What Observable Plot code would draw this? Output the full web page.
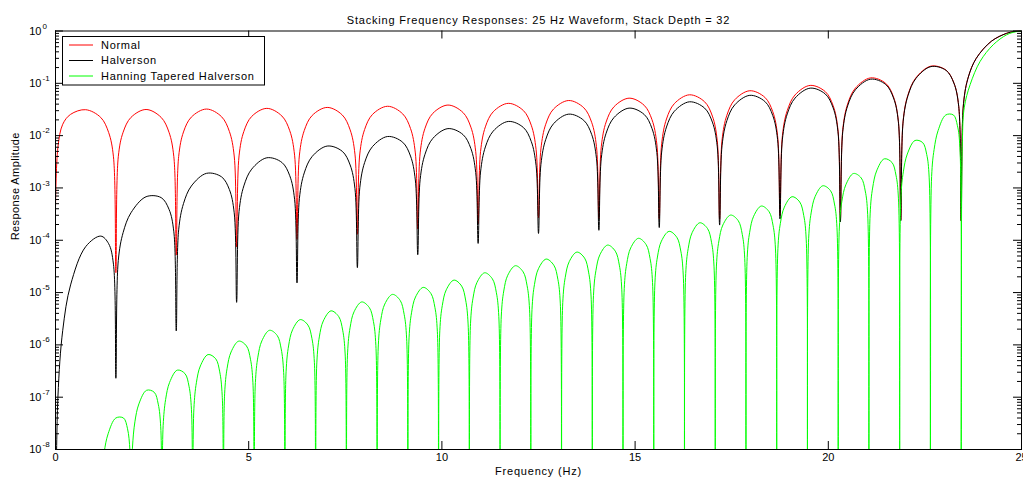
<!DOCTYPE html>
<html>
<head>
<meta charset="utf-8">
<script src="https://cdn.jsdelivr.net/npm/d3@7"></script>
<script src="https://cdn.jsdelivr.net/npm/@observablehq/plot@0.6"></script>
<style>
  html, body { margin: 0; padding: 0; background: #ffffff; }
  #chart { width: 1023px; height: 483px; }
</style>
</head>
<body>
<div id="chart"></div>
<script>
// ---------- text ----------
const title = "Stacking Frequency Responses: 25 Hz Waveform, Stack Depth = 32";
const xLabel = "Frequency (Hz)";
const yLabel = "Response Amplitude";
const seriesNames = ["Normal", "Halverson", "Hanning Tapered Halverson"];
const seriesColors = ["#ff0000", "#000000", "#00ff00"];

// ---------- ticks ----------
const xTicks = [0, 5, 10, 15, 20, 25];
const yTicks = [1e-8, 1e-7, 1e-6, 1e-5, 1e-4, 1e-3, 1e-2, 1e-1, 1];
const yTickExponents = ["-8", "-7", "-6", "-5", "-4", "-3", "-2", "-1", "0"];

// ---------- data: Normal & Halverson share a frequency grid (Hz) ----------
const freqNH = [
  0, 0.0625, 0.1875, 0.3906, 0.7813, 1.1719, 1.375, 1.5,
  1.5625, 1.625, 1.75, 1.9531, 2.3438, 2.7344, 2.9375, 3.0625,
  3.125, 3.1875, 3.3125, 3.5156, 3.9063, 4.2969, 4.5, 4.625,
  4.6875, 4.75, 4.875, 5.0781, 5.4688, 5.8594, 6.0625, 6.1875,
  6.25, 6.3125, 6.4375, 6.6406, 7.0313, 7.4219, 7.625, 7.75,
  7.8125, 7.875, 8.0, 8.2031, 8.5938, 8.9844, 9.1875, 9.3125,
  9.375, 9.4375, 9.5625, 9.7656, 10.1563, 10.5469, 10.75, 10.875,
  10.9375, 11.0, 11.125, 11.3281, 11.7188, 12.1094, 12.3125, 12.4375,
  12.5, 12.5625, 12.6875, 12.8906, 13.2813, 13.6719, 13.875, 14.0,
  14.0625, 14.125, 14.25, 14.4531, 14.8438, 15.2344, 15.4375, 15.5625,
  15.625, 15.6875, 15.8125, 16.0156, 16.4063, 16.7969, 17.0, 17.125,
  17.1875, 17.25, 17.375, 17.5781, 17.9688, 18.3594, 18.5625, 18.6875,
  18.75, 18.8125, 18.9375, 19.1406, 19.5313, 19.9219, 20.125, 20.25,
  20.3125, 20.375, 20.5, 20.7031, 21.0938, 21.4844, 21.6875, 21.8125,
  21.875, 21.9375, 22.0625, 22.2656, 22.6563, 23.0469, 23.25, 23.375,
  23.4375, 23.5, 23.625, 23.8281, 24.2188, 24.6094, 24.8, 25
];

const normal = [
  4.0e-4, 6.0e-3, 1.65e-2, 2.55e-2, 3.13e-2, 2.22e-2, 1.15e-2, 3.93e-3,
  2.4e-5, 3.95e-3, 1.16e-2, 2.23e-2, 3.16e-2, 2.23e-2, 1.16e-2, 3.95e-3,
  5.2e-5, 3.99e-3, 1.175e-2, 2.26e-2, 3.22e-2, 2.30e-2, 1.20e-2, 4.08e-3,
  7.5e-5, 4.09e-3, 1.205e-2, 2.33e-2, 3.32e-2, 2.37e-2, 1.24e-2, 4.23e-3,
  1.04e-4, 4.25e-3, 1.25e-2, 2.42e-2, 3.46e-2, 2.48e-2, 1.29e-2, 4.43e-3,
  1.3e-4, 4.46e-3, 1.31e-2, 2.54e-2, 3.64e-2, 2.61e-2, 1.37e-2, 4.67e-3,
  1.65e-4, 4.67e-3, 1.38e-2, 2.67e-2, 3.84e-2, 2.76e-2, 1.45e-2, 4.95e-3,
  2.06e-4, 4.95e-3, 1.47e-2, 2.86e-2, 4.14e-2, 3.01e-2, 1.58e-2, 5.43e-3,
  2.7e-4, 5.57e-3, 1.65e-2, 3.23e-2, 4.69e-2, 3.41e-2, 1.80e-2, 6.19e-3,
  2.6e-4, 6.15e-3, 1.82e-2, 3.56e-2, 5.20e-2, 3.80e-2, 2.01e-2, 6.90e-3,
  2.55e-4, 7.00e-3, 2.08e-2, 4.09e-2, 6.03e-2, 4.45e-2, 2.36e-2, 8.14e-3,
  2.5e-4, 8.22e-3, 2.45e-2, 4.85e-2, 7.21e-2, 5.38e-2, 2.87e-2, 9.94e-3,
  3.0e-4, 1.00e-2, 3.01e-2, 6.01e-2, 9.12e-2, 6.93e-2, 3.74e-2, 1.30e-2,
  2.45e-4, 1.32e-2, 4.01e-2, 8.13e-2, 0.127, 0.100, 5.49e-2, 1.93e-2,
  2.45e-4, 1.95e-2, 6.04e-2, 0.127, 0.213, 0.179, 0.102, 3.67e-2,
  2.37e-4, 0.0416, 0.1333, 0.3004, 0.6369, 0.9004, 0.9734, 1.0
];

const halverson = [
  1e-10, 1.0e-7, 1.9e-6, 1.4e-5, 7.55e-5, 1.20e-4, 8.59e-5, 3.48e-5,
  2.3e-7, 4.11e-5, 1.40e-4, 3.35e-4, 6.79e-4, 6.53e-4, 3.91e-4, 1.45e-4,
  1.85e-6, 1.58e-4, 5.02e-4, 1.087e-3, 1.90e-3, 1.63e-3, 9.31e-4, 3.35e-4,
  6.5e-6, 3.54e-4, 1.096e-3, 2.29e-3, 3.77e-3, 3.07e-3, 1.71e-3, 6.07e-4,
  1.53e-5, 6.34e-4, 1.936e-3, 3.98e-3, 6.32e-3, 5.01e-3, 2.75e-3, 9.69e-4,
  3.0e-5, 1.005e-3, 3.05e-3, 6.17e-3, 9.62e-3, 7.48e-3, 4.07e-3, 1.42e-3,
  5.3e-5, 1.458e-3, 4.40e-3, 8.86e-3, 1.361e-2, 1.045e-2, 5.66e-3, 1.975e-3,
  8.7e-5, 2.01e-3, 6.07e-3, 1.219e-2, 1.867e-2, 1.429e-2, 7.73e-3, 2.69e-3,
  1.35e-4, 2.81e-3, 8.45e-3, 1.694e-2, 2.574e-2, 1.956e-2, 1.057e-2, 3.68e-3,
  1.55e-4, 3.70e-3, 1.111e-2, 2.215e-2, 3.355e-2, 2.542e-2, 1.367e-2, 4.75e-3,
  1.75e-4, 4.86e-3, 1.463e-2, 2.922e-2, 4.43e-2, 3.366e-2, 1.813e-2, 6.31e-3,
  1.95e-4, 6.42e-3, 1.932e-2, 3.87e-2, 5.89e-2, 4.49e-2, 2.426e-2, 8.45e-3,
  2.55e-4, 8.58e-3, 2.597e-2, 5.23e-2, 8.08e-2, 6.25e-2, 3.40e-2, 1.19e-2,
  2.25e-4, 1.21e-2, 3.70e-2, 7.55e-2, 0.1199, 9.52e-2, 5.25e-2, 1.856e-2,
  2.35e-4, 1.874e-2, 5.83e-2, 0.1234, 0.2087, 0.1768, 0.1009, 3.635e-2,
  2.35e-4, 0.0412, 0.1323, 0.2988, 0.6354, 0.8999, 0.973, 1.0
];

// ---------- data: Hanning tapered Halverson (own frequency grid, Hz) ----------
const freqHann = [
  1.164, 1.195, 1.259, 1.362, 1.561, 1.760, 1.864, 1.927,
  1.959, 1.991, 2.055, 2.158, 2.357, 2.556, 2.659, 2.723,
  2.755, 2.786, 2.850, 2.953, 3.152, 3.351, 3.455, 3.518,
  3.550, 3.582, 3.646, 3.749, 3.948, 4.147, 4.250, 4.314,
  4.346, 4.377, 4.441, 4.544, 4.743, 4.942, 5.046, 5.109,
  5.141, 5.173, 5.237, 5.340, 5.539, 5.738, 5.841, 5.905,
  5.937, 5.968, 6.032, 6.135, 6.334, 6.533, 6.637, 6.700,
  6.732, 6.764, 6.828, 6.931, 7.130, 7.329, 7.432, 7.496,
  7.528, 7.559, 7.623, 7.726, 7.925, 8.124, 8.228, 8.291,
  8.323, 8.355, 8.419, 8.522, 8.721, 8.920, 9.023, 9.087,
  9.119, 9.150, 9.214, 9.317, 9.516, 9.715, 9.819, 9.882,
  9.914, 9.946, 10.010, 10.113, 10.312, 10.511, 10.614, 10.678,
  10.710, 10.741, 10.805, 10.908, 11.107, 11.306, 11.410, 11.473,
  11.505, 11.537, 11.601, 11.704, 11.903, 12.102, 12.205, 12.269,
  12.301, 12.332, 12.396, 12.499, 12.698, 12.897, 13.001, 13.064,
  13.096, 13.128, 13.192, 13.295, 13.494, 13.693, 13.796, 13.860,
  13.892, 13.923, 13.987, 14.090, 14.289, 14.488, 14.592, 14.655,
  14.687, 14.719, 14.783, 14.886, 15.085, 15.284, 15.387, 15.451,
  15.483, 15.514, 15.578, 15.681, 15.880, 16.079, 16.183, 16.246,
  16.278, 16.310, 16.374, 16.477, 16.676, 16.875, 16.978, 17.042,
  17.074, 17.105, 17.169, 17.272, 17.471, 17.670, 17.774, 17.837,
  17.869, 17.901, 17.965, 18.068, 18.267, 18.466, 18.569, 18.633,
  18.665, 18.696, 18.760, 18.863, 19.062, 19.261, 19.365, 19.428,
  19.460, 19.492, 19.556, 19.659, 19.858, 20.057, 20.160, 20.224,
  20.256, 20.287, 20.351, 20.454, 20.653, 20.852, 20.956, 21.019,
  21.051, 21.083, 21.147, 21.250, 21.449, 21.648, 21.751, 21.815,
  21.847, 21.878, 21.942, 22.045, 22.244, 22.443, 22.547, 22.610,
  22.642, 22.674, 22.738, 22.841, 23.040, 23.239, 23.342, 23.406,
  23.4375, 23.47, 23.52, 23.67, 23.93, 24.27, 24.62, 24.85, 25
];

const hanning = [
  1e-9, 2.65e-9, 8.71e-9, 2.00e-8, 4.00e-8, 4.00e-8, 2.49e-8, 9.46e-9,
  1e-9, 1.06e-8, 3.38e-8, 7.43e-8, 1.355e-7, 1.24e-7, 7.36e-8, 2.72e-8,
  1e-9, 2.89e-8, 9.04e-8, 1.92e-7, 3.29e-7, 2.82e-7, 1.62e-7, 5.87e-8,
  1e-9, 6.12e-8, 1.89e-7, 3.95e-7, 6.53e-7, 5.41e-7, 3.05e-7, 1.09e-7,
  1e-9, 1.16e-7, 3.56e-7, 7.32e-7, 1.18e-6, 9.54e-7, 5.31e-7, 1.89e-7,
  1e-9, 1.91e-7, 5.83e-7, 1.19e-6, 1.90e-6, 1.51e-6, 8.36e-7, 2.95e-7,
  1e-9, 3.13e-7, 9.53e-7, 1.94e-6, 3.04e-6, 2.39e-6, 1.32e-6, 4.63e-7,
  1e-9, 4.68e-7, 1.42e-6, 2.87e-6, 4.47e-6, 3.48e-6, 1.91e-6, 6.70e-7,
  1e-9, 7.03e-7, 2.12e-6, 4.29e-6, 6.62e-6, 5.13e-6, 2.80e-6, 9.79e-7,
  1e-9, 9.98e-7, 3.01e-6, 6.03e-6, 9.23e-6, 7.08e-6, 3.84e-6, 1.34e-6,
  1e-9, 1.36e-6, 4.10e-6, 8.22e-6, 1.256e-5, 9.62e-6, 5.21e-6, 1.82e-6,
  1e-9, 1.87e-6, 5.64e-6, 1.13e-5, 1.73e-5, 1.33e-5, 7.19e-6, 2.51e-6,
  1e-9, 2.59e-6, 7.82e-6, 1.565e-5, 2.39e-5, 1.83e-5, 9.93e-6, 3.47e-6,
  1e-9, 3.56e-6, 1.07e-5, 2.14e-5, 3.26e-5, 2.49e-5, 1.35e-5, 4.69e-6,
  1e-9, 4.76e-6, 1.43e-5, 2.86e-5, 4.37e-5, 3.33e-5, 1.80e-5, 6.28e-6,
  1e-9, 6.46e-6, 1.95e-5, 3.90e-5, 5.94e-5, 4.55e-5, 2.46e-5, 8.59e-6,
  1e-9, 8.83e-6, 2.65e-5, 5.31e-5, 8.09e-5, 6.18e-5, 3.34e-5, 1.16e-5,
  1e-9, 1.19e-5, 3.56e-5, 7.13e-5, 1.09e-4, 8.30e-5, 4.49e-5, 1.56e-5,
  1e-9, 1.58e-5, 4.78e-5, 9.61e-5, 1.48e-4, 1.14e-4, 6.21e-5, 2.17e-5,
  1e-9, 2.30e-5, 6.93e-5, 1.40e-4, 2.16e-4, 1.67e-4, 9.14e-5, 3.20e-5,
  1e-9, 3.21e-5, 9.70e-5, 1.96e-4, 3.03e-4, 2.36e-4, 1.29e-4, 4.51e-5,
  1e-9, 4.69e-5, 1.42e-4, 2.88e-4, 4.51e-4, 3.53e-4, 1.94e-4, 6.81e-5,
  1e-9, 6.92e-5, 2.11e-4, 4.30e-4, 6.79e-4, 5.38e-4, 2.96e-4, 1.05e-4,
  1e-9, 1.09e-4, 3.33e-4, 6.86e-4, 1.10e-3, 8.87e-4, 4.93e-4, 1.75e-4,
  1e-9, 1.79e-4, 5.52e-4, 1.15e-3, 1.89e-3, 1.55e-3, 8.75e-4, 3.13e-4,
  1e-9, 3.19e-4, 9.95e-4, 2.11e-3, 3.60e-3, 3.07e-3, 1.76e-3, 6.37e-4,
  1e-9, 6.37e-4, 2.03e-3, 4.45e-3, 8.07e-3, 7.35e-3, 4.36e-3, 1.61e-3,
  1e-9, 1.65e-3, 5.41e-3, 1.245e-2, 2.48e-2, 2.48e-2, 1.545e-2, 5.87e-3,
  1e-9, 8e-3, 0.035, 0.094, 0.263, 0.547, 0.85, 0.965, 1.0
];

// ---------- tables built from the arrays ----------
const normalRows = freqNH.map((f, i) => ({f, v: normal[i]}));
const halversonRows = freqNH.map((f, i) => ({f, v: halverson[i]}));
const hanningRows = freqHann.map((f, i) => ({f, v: hanning[i]}));
const yMinorTicks = [];
yTicks.slice(0, -1).forEach(d => { for (let m = 2; m <= 9; m++) yMinorTicks.push(d * m); });

// ---------- layout ----------
const W = 1023, H = 483;
const mL = 55, mR = 2, mT = 30.5, mB = 34;
const frameW = W - mL - mR, frameH = H - mT - mB;
const font = "'Liberation Sans', Arial, Helvetica, sans-serif";

const chart = Plot.plot({
  width: W,
  height: H,
  marginLeft: mL,
  marginRight: mR,
  marginTop: mT,
  marginBottom: mB,
  style: {fontFamily: font, fontSize: "11px", background: "#ffffff", color: "#000000"},
  x: {type: "linear", domain: [0, 25], axis: null},
  y: {type: "log", domain: [1e-8, 1], axis: null},
  marks: [
    Plot.line(normalRows, {x: "f", y: "v", stroke: seriesColors[0], strokeWidth: 1, curve: "catmull-rom", clip: true}),
    Plot.line(halversonRows, {x: "f", y: "v", stroke: seriesColors[1], strokeWidth: 1, curve: "catmull-rom", clip: true}),
    Plot.line(hanningRows, {x: "f", y: "v", stroke: seriesColors[2], strokeWidth: 1, curve: "catmull-rom", clip: true}),
    // inward ticks on all four sides
    Plot.tickX(xTicks, {x: d => d, insetTop: frameH - 8, stroke: "#000"}),
    Plot.tickX(xTicks, {x: d => d, insetBottom: frameH - 8, stroke: "#000"}),
    Plot.tickY(yTicks, {y: d => d, insetRight: frameW - 8, stroke: "#000"}),
    Plot.tickY(yTicks, {y: d => d, insetLeft: frameW - 8, stroke: "#000"}),
    Plot.tickY(yMinorTicks, {y: d => d, insetRight: frameW - 4, stroke: "#000"}),
    Plot.tickY(yMinorTicks, {y: d => d, insetLeft: frameW - 4, stroke: "#000"}),
    Plot.frame({stroke: "#000", strokeWidth: 1}),
    // tick labels
    Plot.text(xTicks, {x: d => d, frameAnchor: "bottom", dy: 11, text: d => String(d), fill: "#000", fontSize: 11}),
    Plot.text(yTicks, {y: d => d, frameAnchor: "left", dx: -14, textAnchor: "end", text: () => "10", fill: "#000", fontSize: 11}),
    Plot.text(yTicks, {y: d => d, frameAnchor: "left", dx: -13, dy: -5, textAnchor: "start",
      text: (d, i) => yTickExponents[i], fill: "#000", fontSize: 8}),
    // titles
    Plot.text([title], {frameAnchor: "top", dy: -14.5, text: d => d, fill: "#000", fontSize: 11}),
    Plot.text([xLabel], {frameAnchor: "bottom", dy: 25.5, text: d => d, fill: "#000", fontSize: 11}),
    Plot.text([yLabel], {frameAnchor: "left", dx: -40, rotate: -90, text: d => d, fill: "#000", fontSize: 11})
  ]
});

document.getElementById("chart").appendChild(chart);

// wider letter spacing like the reference's bitmap fonts
d3.select(chart).selectAll("text")
  .filter(function () { return [title, xLabel].includes(this.textContent); })
  .attr("letter-spacing", "0.8px");
d3.select(chart).selectAll("text")
  .filter(function () { return this.textContent === yLabel; })
  .attr("letter-spacing", "0.4px");

// ---------- legend box ----------
const svg = d3.select(chart);
const lg = svg.append("g")
  .attr("font-family", font)
  .attr("font-size", 11)
  .attr("text-anchor", "start");
lg.append("rect")
  .attr("x", 62.5).attr("y", 36.5).attr("width", 202).attr("height", 48.5)
  .attr("fill", "#ffffff").attr("stroke", "#000000").attr("stroke-width", 1);
seriesNames.forEach((name, i) => {
  const y = 45 + i * 15.5;
  lg.append("line")
    .attr("x1", 69).attr("x2", 93).attr("y1", y).attr("y2", y)
    .attr("stroke", seriesColors[i]).attr("stroke-width", 1);
  lg.append("text")
    .attr("x", 101).attr("y", y).attr("dy", "0.35em")
    .attr("text-anchor", "start")
    .attr("letter-spacing", "0.7px")
    .attr("fill", "#000").text(name);
});
</script>
</body>
</html>
